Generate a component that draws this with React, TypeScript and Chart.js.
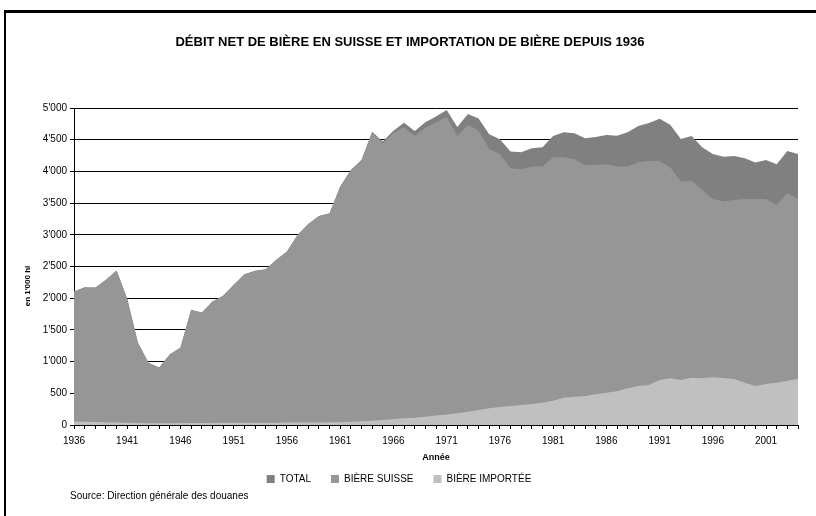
import React, { useEffect, useRef } from "react";
import { Chart, registerables } from "chart.js";

Chart.register(...registerables);

const YEARS = [
  "1936","1937","1938","1939","1940","1941","1942","1943","1944","1945",
  "1946","1947","1948","1949","1950","1951","1952","1953","1954","1955",
  "1956","1957","1958","1959","1960","1961","1962","1963","1964","1965",
  "1966","1967","1968","1969","1970","1971","1972","1973","1974","1975",
  "1976","1977","1978","1979","1980","1981","1982","1983","1984","1985",
  "1986","1987","1988","1989","1990","1991","1992","1993","1994","1995",
  "1996","1997","1998","1999","2000","2001","2002","2003","2004",
];

const X_TICK_LABELS = ["1936","1941","1946","1951","1956","1961","1966","1971","1976","1981","1986","1991","1996","2001"];

const TOTAL = [
  2105, 2174, 2168, 2290, 2437, 1990, 1300, 980, 905, 1116,
  1221, 1816, 1775, 1948, 2038, 2211, 2379, 2432, 2458, 2605,
  2736, 2999, 3172, 3298, 3340, 3761, 4023, 4181, 4627, 4470,
  4643, 4769, 4638, 4775, 4865, 4968, 4700, 4905, 4835, 4585,
  4506, 4312, 4301, 4364, 4380, 4559, 4617, 4601, 4522, 4543,
  4575, 4564, 4617, 4716, 4764, 4832, 4737, 4512, 4559, 4380,
  4275, 4233, 4244, 4207, 4139, 4181, 4112, 4322, 4275,
];

const SWISS = [
  2100, 2170, 2164, 2286, 2433, 1986, 1296, 976, 901, 1112,
  1217, 1812, 1771, 1944, 2034, 2207, 2375, 2428, 2454, 2601,
  2732, 2995, 3168, 3294, 3336, 3755, 4015, 4165, 4611, 4443,
  4601, 4695, 4559, 4690, 4775, 4855, 4559, 4732, 4640, 4349,
  4275, 4049, 4034, 4076, 4076, 4223, 4223, 4191, 4102, 4102,
  4112, 4076, 4076, 4144, 4165, 4165, 4060, 3839, 3855, 3708,
  3566, 3524, 3550, 3566, 3566, 3566, 3472, 3655, 3566,
];

const IMPORTED = [
  55, 50, 48, 45, 40, 35, 30, 28, 27, 28,
  30, 32, 32, 33, 34, 35, 35, 36, 36, 37,
  38, 38, 39, 40, 42, 45, 50, 58, 68, 80,
  95, 105, 115, 130, 150, 165, 184, 210, 237, 263,
  283, 300, 316, 331, 352, 384, 431, 447, 457, 484,
  510, 531, 578, 615, 631, 710, 736, 710, 747, 736,
  752, 741, 726, 668, 615, 647, 668, 699, 726,
];

const SERIES_NAMES = ["TOTAL", "BIÈRE SUISSE", "BIÈRE IMPORTÉE"];
const TITLE = "DÉBIT NET DE BIÈRE EN SUISSE ET IMPORTATION DE BIÈRE DEPUIS 1936";
const Y_TITLE = "en 1'000 hl";
const X_TITLE = "Année";
const SOURCE = "Source: Direction générale des douanes";

const FONT = "'Liberation Sans', Arial, sans-serif";

function fmt(v: number): string {
  if (v >= 1000) {
    const th = Math.floor(v / 1000);
    const rest = String(v % 1000).padStart(3, "0");
    return `${th}'${rest}`;
  }
  return String(v);
}

const textPlugin = {
  id: "extraText",
  afterDraw(chart: any) {
    const ctx = chart.ctx;
    const area = chart.chartArea;
    ctx.save();
    ctx.fillStyle = "#000";
    // main title
    ctx.font = `bold 13px ${FONT}`;
    ctx.textAlign = "center";
    ctx.textBaseline = "alphabetic";
    ctx.fillText(TITLE, 410, 46);
    // y title
    ctx.font = `bold 8px ${FONT}`;
    ctx.textAlign = "center";
    ctx.textBaseline = "middle";
    ctx.translate(28, 286);
    ctx.rotate(-Math.PI / 2);
    ctx.fillText(Y_TITLE, 0, 0);
    ctx.restore();
    ctx.save();
    ctx.fillStyle = "#000";
    ctx.font = `bold 9px ${FONT}`;
    ctx.textAlign = "center";
    ctx.textBaseline = "middle";
    ctx.fillText(X_TITLE, (area.left + area.right) / 2, 458);
    ctx.font = `10px ${FONT}`;
    ctx.textAlign = "left";
    ctx.fillText(SOURCE, 70, 496);
    ctx.restore();
  },
};

export default function App() {
  const ref = useRef<HTMLCanvasElement>(null);
  useEffect(() => {
    const canvas = ref.current;
    if (!canvas) return;
    const chart = new Chart(canvas, {
      type: "line",
      data: {
        labels: YEARS,
        datasets: [
          {
            label: SERIES_NAMES[0],
            data: TOTAL,
            backgroundColor: "#808080",
            borderColor: "rgba(0,0,0,0)",
            borderWidth: 0,
            pointRadius: 0,
            fill: "origin",
            order: 3,
          },
          {
            label: SERIES_NAMES[1],
            data: SWISS,
            backgroundColor: "#969696",
            borderColor: "rgba(0,0,0,0)",
            borderWidth: 0,
            pointRadius: 0,
            fill: "origin",
            order: 2,
          },
          {
            label: SERIES_NAMES[2],
            data: IMPORTED,
            backgroundColor: "#C0C0C0",
            borderColor: "rgba(0,0,0,0)",
            borderWidth: 0,
            pointRadius: 0,
            fill: "origin",
            order: 1,
          },
        ],
      },
      options: {
        responsive: false,
        animation: false,
        layout: { padding: { left: 0, right: 18, top: 108, bottom: 22 } },
        plugins: {
          title: { display: false },
          legend: {
            display: true,
            position: "bottom",
            labels: {
              color: "#000",
              font: { family: FONT, size: 10 },
              boxWidth: 8,
              boxHeight: 8,
              padding: 20,
              sort: (a: any, b: any) => a.datasetIndex - b.datasetIndex,
            },
          },
          tooltip: { enabled: false },
        },
        scales: {
          x: {
            type: "category",
            offset: false,
            afterFit: (scale: any) => {
              scale.height = 29;
            },
            grid: {
              display: true,
              drawOnChartArea: false,
              drawTicks: true,
              tickLength: 4,
              color: "#000",
            },
            border: { display: true, color: "#000", width: 1 },
            ticks: {
              autoSkip: false,
              maxRotation: 0,
              minRotation: 0,
              padding: 6,
              color: "#000",
              font: { family: FONT, size: 10 },
              callback: function (this: any, _v: any, idx: number) {
                const lab = YEARS[idx];
                return X_TICK_LABELS.includes(lab) ? lab : "";
              },
            },
          },
          y: {
            min: 0,
            max: 5000,
            afterFit: (scale: any) => {
              scale.width = 74;
            },
            grid: {
              display: true,
              drawOnChartArea: true,
              drawTicks: true,
              tickLength: 4,
              color: "#000",
              lineWidth: 1,
            },
            border: { display: true, color: "#000", width: 1 },
            ticks: {
              stepSize: 500,
              padding: 3,
              color: "#000",
              font: { family: FONT, size: 10 },
              callback: (v: any) => fmt(Number(v)),
            },
          },
        },
      },
      plugins: [textPlugin],
    });
    return () => chart.destroy();
  }, []);

  return (
    <div style={{ position: "fixed", left: 0, top: 0, width: 816, height: 516, background: "#fff" }}>
      <canvas ref={ref} width={816} height={516} style={{ width: 816, height: 516, display: "block" }} />
      <div style={{ position: "absolute", left: 4, top: 10, width: 812, height: 3, background: "#000" }} />
      <div style={{ position: "absolute", left: 4, top: 10, width: 2, height: 506, background: "#000" }} />
    </div>
  );
}
